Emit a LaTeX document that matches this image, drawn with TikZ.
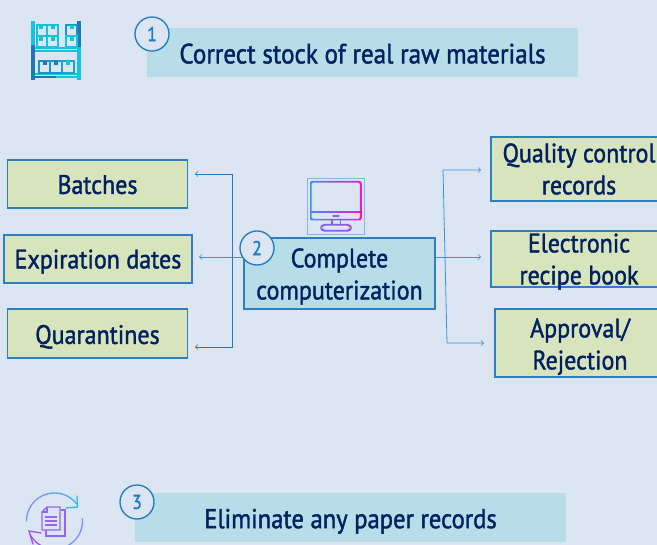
\documentclass[tikz,border=0pt]{standalone}
\usepackage{fontspec}
\setmainfont{PT Sans}[FakeBold=1.4, FakeStretch=0.9]
\definecolor{pagebg}{HTML}{DCE6F2}
\definecolor{banner}{HTML}{B7DDE8}
\definecolor{paleleaf}{HTML}{D8E4BC}
\definecolor{edgeblue}{HTML}{2E7FBE}
\definecolor{linkblue}{HTML}{3E93D3}
\definecolor{navytext}{HTML}{002060}
\definecolor{ringblue}{HTML}{1F7BC4}
\definecolor{shelfcyan}{HTML}{14C4DC}
\definecolor{shelfdark}{HTML}{1C78B8}
\definecolor{framepale}{HTML}{86B6DE}
\definecolor{screenblue}{HTML}{3F8CFF}
\definecolor{screenpink}{HTML}{FF10D0}
\definecolor{arcsky}{HTML}{38B4F0}
\definecolor{arcmid}{HTML}{7C96F0}
\definecolor{arcviolet}{HTML}{A050F0}
\newcommand{\lowered}[2]{\raisebox{-#1}[\height][\depth]{\begin{tabular}{@{}c@{}}#2\end{tabular}}}
\tikzset{
    labeltext/.style={text=navytext, font=\fontsize{20}{24}\selectfont, align=center},
    bannerbox/.style={labeltext, fill=banner, minimum width=323.25pt, minimum height=36.75pt, inner sep=0pt, text depth=0pt},
    leafbox/.style={labeltext, fill=paleleaf, draw=edgeblue, line width=0.8pt, inner sep=0pt},
    numring/.style={circle, draw=ringblue, line width=1pt, fill=pagebg, text=ringblue, minimum size=25.5pt, inner sep=0pt, font=\fontsize{15}{16}\selectfont},
    link/.style={draw=linkblue, line width=0.6pt, ->, >=to},
    shelfline/.style={draw=shelfcyan, line width=0.8pt},
    docline/.style={draw=arcviolet!70!arcmid, line width=0.8pt}
}
\begin{document}
\begin{tikzpicture}[x=0.75pt, y=-0.75pt]
        \fill[pagebg] (0,0) rectangle (657,545);
        \useasboundingbox (0,0) rectangle (657,545);

        \node[bannerbox, font=\fontsize{20.9}{24}\selectfont] (stock) at (362.5,52.5) {\raisebox{-0.75pt}[\height][\depth]{Correct stock of real raw materials}};
        \node[bannerbox, font=\fontsize{20.5}{24}\selectfont] (paper) at (350.5,517.5) {\raisebox{-0.75pt}[\height][\depth]{Eliminate any paper records}};

        \node[leafbox, minimum width=135pt, minimum height=36pt] (batches) at (97.5,184) {\lowered{2.6pt}{Batches}};
        \node[leafbox, minimum width=141pt, minimum height=36pt] (expiry) at (98,259) {\lowered{2.25pt}{Expiration dates}};
        \node[leafbox, minimum width=135pt, minimum height=36.75pt] (quarantine) at (97.5,333.5) {\lowered{3pt}{Quarantines}};

        \node[leafbox, fill=banner, minimum width=143.25pt, minimum height=53.25pt] (complete) at (339.5,273.5) {\lowered{2.6pt}{Complete\\computerization}};

        \node[leafbox, minimum width=132pt, minimum height=48pt] (quality) at (579,169) {Quality control\\records};
        \node[leafbox, inner ysep=-6pt, minimum width=132pt, minimum height=42pt] (recipe) at (579,259) {\lowered{2.25pt}{Electronic\\recipe book}};
        \node[leafbox, minimum width=127.5pt, minimum height=51pt] (approval) at (580,343) {\lowered{3pt}{Approval/\\Rejection}};

        \coordinate (leftup) at (195,174);
        \coordinate (leftmid) at (199,257);
        \coordinate (leftdown) at (195,347);
        \coordinate (bendup) at (232,174);
        \coordinate (benddown) at (232,347);
        \coordinate (righttop) at (481,170);
        \coordinate (rightmid) at (481,257);
        \coordinate (rightlow) at (484,343);
        \coordinate (bendtop) at (443,170);
        \coordinate (bendlow) at (447,343);

        \draw[link, <->, draw=ringblue] (leftup) -- (bendup) -- (benddown) -- (leftdown);
        \draw[link] (complete.west |- leftmid) -- (leftmid);
        \draw[link] (complete.east |- rightmid) -- (rightmid);
        \draw[link, <->] (righttop) -- (bendtop) -- (bendlow) -- (rightlow);

        \node[numring] (one) at (152,34) {1};
        \node[numring] (two) at (257,248) {2};
        \node[numring] (three) at (137,502) {3};

        % shelves
        \fill[shelfdark] (31,21) rectangle (35,80);
        \fill[shelfcyan] (31,21) rectangle (35,45);
        \fill[shelfcyan] (77,47) rectangle (81,80);
        \fill[shelfdark] (77,21) rectangle (81,47);
        \draw[shelfline] (35,48) -- (77,48);
        \draw[shelfline] (35,51) -- (77,51);
        \draw[shelfline] (35,74) -- (77,74);
        \draw[shelfline, draw=shelfdark] (35,77) -- (56,77);
        \draw[shelfline] (56,77) -- (77,77);
        \draw[shelfline] (37,25) rectangle (47,36);
        \draw[shelfline] (47,25) rectangle (58,36);
        \draw[shelfline] (37,36) rectangle (47,47);
        \draw[shelfline] (47,36) rectangle (58,47);
        \draw[shelfline, draw=shelfdark!60!shelfcyan] (66,25) rectangle (77,36);
        \draw[shelfline] (66,36) rectangle (77,47);
        \draw[shelfline, draw=shelfdark!60!shelfcyan] (39,61) rectangle (50,73);
        \draw[shelfline, draw=shelfdark!60!shelfcyan] (50,61) rectangle (62,73);
        \draw[shelfline, draw=shelfdark!40!shelfcyan] (62,61) rectangle (74,73);
        \fill[shelfcyan] (39,25) rectangle (43,29);
        \fill[shelfcyan] (51,25) rectangle (55,29);
        \fill[shelfcyan] (70,25) rectangle (74,29);
        \fill[shelfcyan] (39,37) rectangle (43,41);
        \fill[shelfcyan] (51,37) rectangle (55,41);
        \fill[shelfcyan] (70,37) rectangle (74,41);
        \fill[shelfdark] (43,61) rectangle (47,65);
        \fill[shelfdark] (54,61) rectangle (58,65);
        \fill[shelfcyan] (66,61) rectangle (70,65);

        % monitor
        \node[draw=framepale, line width=0.8pt, minimum width=43pt, minimum height=42.5pt, inner sep=0pt] (frame) at (336,206.5) {};
        \path[even odd rule, left color=screenblue, right color=screenpink, rounded corners=1.5pt]
            (310,181) rectangle (361.5,220.5) (311.6,182.6) rectangle (359.9,218.9);
        \fill[left color=screenblue, right color=screenpink] (310,211.2) rectangle (361.5,212.8);
        \fill[left color=screenblue!60!screenpink, right color=screenblue] (332.7,215.2) rectangle (339.3,216.8);
        \fill[screenblue!70!screenpink] (331.4,220) rectangle (332.8,225);
        \fill[screenblue!60!screenpink] (339.6,220) rectangle (341,225);
        \path[even odd rule, left color=screenblue!70!screenpink, right color=screenblue!50!screenpink, rounded corners=3pt]
            (320,224) rectangle (352,231.6) (321.6,225.6) rectangle (350.4,230);

        % paper cycle
        \draw[draw=arcmid, line width=1pt, line cap=round] plot[domain=180:250, samples=14] ({54.5+28*cos(\x)},{521+28*sin(\x)});
        \draw[draw=arcsky!50!arcmid, line width=1pt, line cap=round] plot[domain=250:300, samples=10] ({54.5+28*cos(\x)},{521+28*sin(\x)});
        \draw[draw=arcsky, line width=1pt, line cap=round] plot[domain=300:322, samples=6] ({54.5+28*cos(\x)},{521+28*sin(\x)});
        \draw[draw=arcsky, line width=1pt, line cap=round] (66,508) -- (77.5,507) -- (77,496);
        \draw[draw=arcmid, line width=1pt, line cap=round] plot[domain=-5:70, samples=14] ({54.5+28*cos(\x)},{521+28*sin(\x)});
        \draw[draw=arcviolet, line width=1pt, line cap=round] plot[domain=108:150, samples=8] ({54.5+28*cos(\x)},{521+28*sin(\x)});
        \draw[draw=arcviolet, line width=1pt, line cap=round] (41,533) -- (29,531) -- (33,544);
        \draw[docline] (46,527) -- (46,536) -- (65,536) -- (65,510) -- (61,510);
        \draw[docline, fill=pagebg] (47,507) -- (60,507) -- (60,530) -- (42,530) -- (42,512) -- cycle;
        \draw[docline] (47,507) -- (47,512) -- (42,512);
        \draw[docline] (45,517) -- (57,517);
        \draw[docline] (45,521) -- (57,521);
        \draw[docline] (45,525) -- (57,525);
\end{tikzpicture}
\end{document}
